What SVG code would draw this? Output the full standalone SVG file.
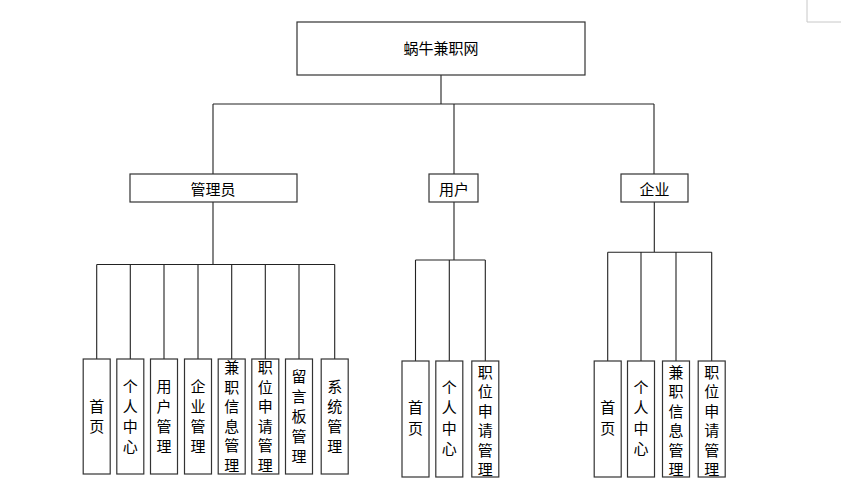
<svg xmlns="http://www.w3.org/2000/svg" width="855" height="488" viewBox="0 0 855 488">
<style>
.box{fill:#fff;stroke:#333;stroke-width:1.2}
.ln{fill:none;stroke:#222;stroke-width:1.1}
.t{font-family:"Noto Sans CJK SC","Noto Sans",sans-serif;font-size:15px;fill:#000;text-anchor:middle}
.mark{fill:none;stroke:#c8c8c8;stroke-width:1}
</style>
<rect width="855" height="488" fill="#fff"/>
<path class="mark" d="M807,0 V22 H841"/>
<g id="connectors">
<path class="ln" d="M441,75 V104 M213,104 H654 M213,104 V174 M454,104 V174 M654,104 V174"/>
<path class="ln" d="M213,202 V264.5 M96.7,264.5 H334.7 M96.7,264.5 V359 M130.3,264.5 V359 M164,264.5 V359 M198,264.5 V359 M231.7,264.5 V359 M265.3,264.5 V359 M299,264.5 V359 M334.7,264.5 V359"/>
<path class="ln" d="M454,202 V260 M415.5,260 H485.3 M415.5,260 V361 M449.3,260 V361 M485.3,260 V361"/>
<path class="ln" d="M654.3,202 V252.3 M607.7,252.3 H711.7 M607.7,252.3 V361 M641,252.3 V361 M676,252.3 V361 M711.7,252.3 V361"/>
</g>
<g id="root"><rect class="box" x="297" y="22" width="288" height="53"/><text class="t" x="441" y="54">蜗牛兼职网</text></g>
<g id="admin"><rect class="box" x="130" y="174" width="167" height="28"/><text class="t" x="213" y="194.5">管理员</text></g>
<g id="user"><rect class="box" x="429" y="174" width="49" height="28"/><text class="t" x="454" y="194.5">用户</text></g>
<g id="company"><rect class="box" x="621" y="174" width="67" height="28"/><text class="t" x="654.5" y="194.5">企业</text></g>

<g id="a1"><rect class="box" x="83.2" y="359" width="27" height="115"/><text class="t"><tspan x="96.7" y="412">首</tspan><tspan x="96.7" y="432">页</tspan></text></g>
<g id="a2"><rect class="box" x="116.8" y="359" width="27" height="115"/><text class="t"><tspan x="130.3" y="392">个</tspan><tspan x="130.3" y="412">人</tspan><tspan x="130.3" y="432">中</tspan><tspan x="130.3" y="452">心</tspan></text></g>
<g id="a3"><rect class="box" x="150.5" y="359" width="27" height="115"/><text class="t"><tspan x="164" y="392">用</tspan><tspan x="164" y="412">户</tspan><tspan x="164" y="432">管</tspan><tspan x="164" y="452">理</tspan></text></g>
<g id="a4"><rect class="box" x="184.5" y="359" width="27" height="115"/><text class="t"><tspan x="198" y="392">企</tspan><tspan x="198" y="412">业</tspan><tspan x="198" y="432">管</tspan><tspan x="198" y="452">理</tspan></text></g>
<g id="a5"><rect class="box" x="218.2" y="359" width="27" height="115"/><text class="t"><tspan x="231.7" y="373">兼</tspan><tspan x="231.7" y="392.6">职</tspan><tspan x="231.7" y="412.2">信</tspan><tspan x="231.7" y="431.8">息</tspan><tspan x="231.7" y="451.4">管</tspan><tspan x="231.7" y="471">理</tspan></text></g>
<g id="a6"><rect class="box" x="251.8" y="359" width="27" height="115"/><text class="t"><tspan x="265.3" y="373">职</tspan><tspan x="265.3" y="392.6">位</tspan><tspan x="265.3" y="412.2">申</tspan><tspan x="265.3" y="431.8">请</tspan><tspan x="265.3" y="451.4">管</tspan><tspan x="265.3" y="471">理</tspan></text></g>
<g id="a7"><rect class="box" x="285.5" y="359" width="27" height="115"/><text class="t"><tspan x="299" y="382">留</tspan><tspan x="299" y="402">言</tspan><tspan x="299" y="422">板</tspan><tspan x="299" y="442">管</tspan><tspan x="299" y="462">理</tspan></text></g>
<g id="a8"><rect class="box" x="321.2" y="359" width="27" height="115"/><text class="t"><tspan x="334.7" y="392">系</tspan><tspan x="334.7" y="412">统</tspan><tspan x="334.7" y="432">管</tspan><tspan x="334.7" y="452">理</tspan></text></g>

<g id="u1"><rect class="box" x="402" y="361" width="27" height="116"/><text class="t"><tspan x="415.5" y="412.5">首</tspan><tspan x="415.5" y="433.5">页</tspan></text></g>
<g id="u2"><rect class="box" x="435.8" y="361" width="27" height="116"/><text class="t"><tspan x="449.3" y="392.5">个</tspan><tspan x="449.3" y="413">人</tspan><tspan x="449.3" y="433.5">中</tspan><tspan x="449.3" y="454">心</tspan></text></g>
<g id="u3"><rect class="box" x="471.8" y="361" width="27" height="116"/><text class="t"><tspan x="485.3" y="378">职</tspan><tspan x="485.3" y="397.4">位</tspan><tspan x="485.3" y="416.8">申</tspan><tspan x="485.3" y="436.2">请</tspan><tspan x="485.3" y="455.6">管</tspan><tspan x="485.3" y="475">理</tspan></text></g>

<g id="c1"><rect class="box" x="594.2" y="361" width="27" height="116"/><text class="t"><tspan x="607.7" y="412.5">首</tspan><tspan x="607.7" y="433.5">页</tspan></text></g>
<g id="c2"><rect class="box" x="627.5" y="361" width="27" height="116"/><text class="t"><tspan x="641" y="392.5">个</tspan><tspan x="641" y="413">人</tspan><tspan x="641" y="433.5">中</tspan><tspan x="641" y="454">心</tspan></text></g>
<g id="c3"><rect class="box" x="662.5" y="361" width="27" height="116"/><text class="t"><tspan x="676" y="378">兼</tspan><tspan x="676" y="397.4">职</tspan><tspan x="676" y="416.8">信</tspan><tspan x="676" y="436.2">息</tspan><tspan x="676" y="455.6">管</tspan><tspan x="676" y="475">理</tspan></text></g>
<g id="c4"><rect class="box" x="698.2" y="361" width="27" height="116"/><text class="t"><tspan x="711.7" y="378">职</tspan><tspan x="711.7" y="397.4">位</tspan><tspan x="711.7" y="416.8">申</tspan><tspan x="711.7" y="436.2">请</tspan><tspan x="711.7" y="455.6">管</tspan><tspan x="711.7" y="475">理</tspan></text></g>
</svg>
